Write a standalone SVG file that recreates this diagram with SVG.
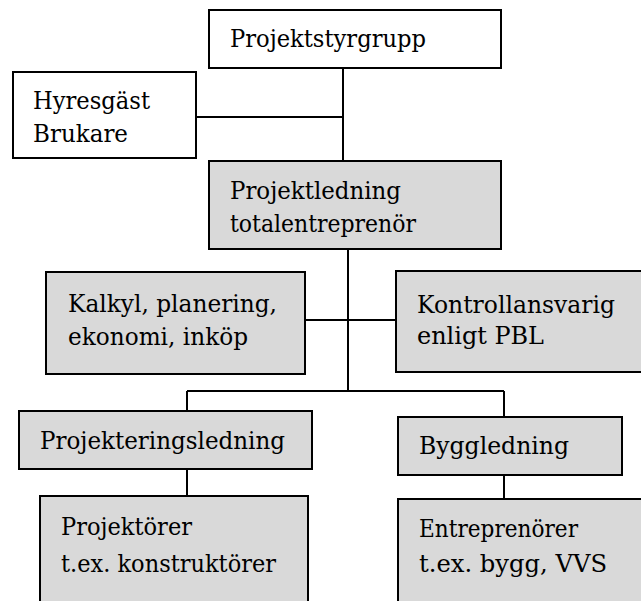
<svg xmlns="http://www.w3.org/2000/svg" width="641" height="601" viewBox="0 0 641 601">
<style>
.w{fill:#ffffff;stroke:#000;stroke-width:2}
.g{fill:#d9d9d9;stroke:#000;stroke-width:2}
.c{fill:none;stroke:#000;stroke-width:2}
</style>
<rect width="641" height="601" fill="#fff"/>
<g id="connectors">
<path class="c" d="M343 68V161M196 117H343"/>
<path class="c" d="M348 249V391M305 320H396M187 391H504M187 391V411M504 391V417M187 469V496M504 475V499"/>
</g>
<g font-family="'DejaVu Serif', serif" font-size="24.5" fill="#000">
<g id="projektstyrgrupp"><rect class="w" x="209" y="10" width="292" height="58"/><text x="230" y="47" textLength="196" lengthAdjust="spacingAndGlyphs">Projektstyrgrupp</text></g>
<g id="hyresgast"><rect class="w" x="13" y="72" width="183" height="86"/><text x="33" y="109" textLength="117" lengthAdjust="spacingAndGlyphs">Hyresgäst</text><text x="33" y="142" textLength="95" lengthAdjust="spacingAndGlyphs">Brukare</text></g>
<g id="projektledning"><rect class="g" x="209" y="161" width="292" height="88"/><text x="230" y="199" textLength="171" lengthAdjust="spacingAndGlyphs">Projektledning</text><text x="230" y="232" textLength="186" lengthAdjust="spacingAndGlyphs">totalentreprenör</text></g>
<g id="kalkyl"><rect class="g" x="46" y="272" width="259" height="102"/><text x="68" y="312" textLength="209" lengthAdjust="spacingAndGlyphs">Kalkyl, planering,</text><text x="68" y="345" textLength="180" lengthAdjust="spacingAndGlyphs">ekonomi, inköp</text></g>
<g id="kontrollansvarig"><rect class="g" x="396" y="271" width="260" height="101"/><text x="417" y="313" textLength="198" lengthAdjust="spacingAndGlyphs">Kontrollansvarig</text><text x="417" y="344" textLength="127" lengthAdjust="spacingAndGlyphs">enligt PBL</text></g>
<g id="projekteringsledning"><rect class="g" x="19" y="411" width="293" height="58"/><text x="40" y="449" textLength="245" lengthAdjust="spacingAndGlyphs">Projekteringsledning</text></g>
<g id="byggledning"><rect class="g" x="398" y="417" width="224" height="58"/><text x="419" y="454" textLength="150" lengthAdjust="spacingAndGlyphs">Byggledning</text></g>
<g id="projektorer"><rect class="g" x="40" y="496" width="268" height="120"/><text x="61" y="535" textLength="131" lengthAdjust="spacingAndGlyphs">Projektörer</text><text x="61" y="572" textLength="215" lengthAdjust="spacingAndGlyphs">t.ex. konstruktörer</text></g>
<g id="entreprenorer"><rect class="g" x="398" y="499" width="260" height="120"/><text x="419" y="537" textLength="159" lengthAdjust="spacingAndGlyphs">Entreprenörer</text><text x="419" y="572" textLength="188" lengthAdjust="spacingAndGlyphs">t.ex. bygg, VVS</text></g>
</g>
</svg>
